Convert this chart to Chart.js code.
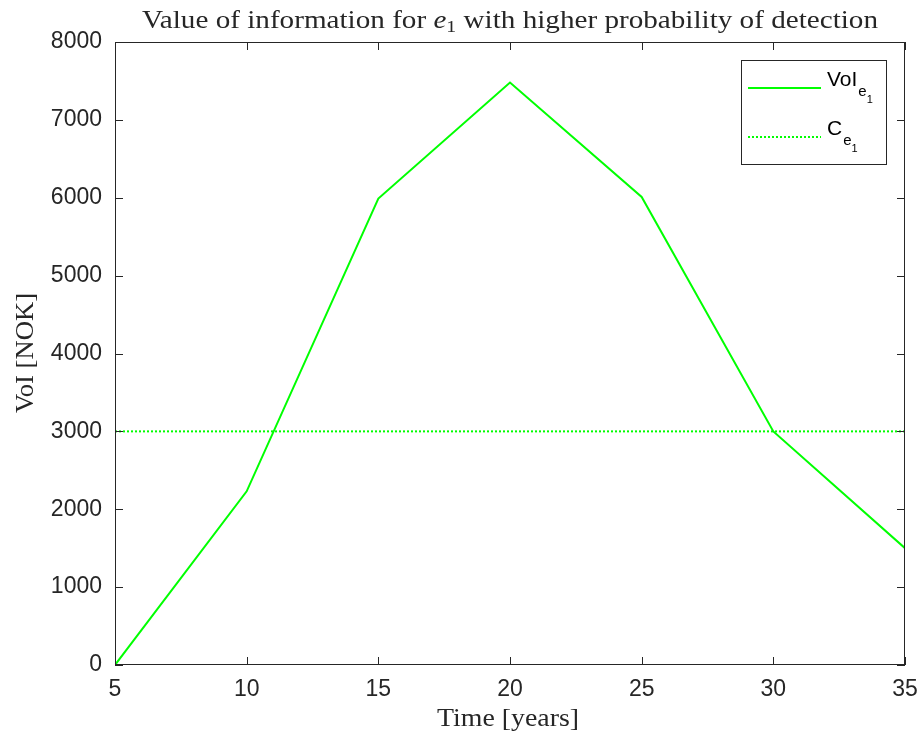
<!DOCTYPE html>
<html>
<head>
<meta charset="utf-8">
<script src="https://cdn.jsdelivr.net/npm/chart.js@4.4.0/dist/chart.umd.min.js"></script>
<style>
  html, body { margin: 0; padding: 0; background: #fff; }
  #wrap { width: 922px; height: 740px; }
</style>
</head>
<body>
<div id="wrap"><canvas id="voiChart" width="922" height="740"></canvas></div>
<script>
// values
const years = [5, 10, 15, 20, 25, 30, 35];
const voiValues = [0, 2230, 5990, 7480, 6010, 3000, 1500];
const costYears = [5, 35];
const costValues = [3000, 3000];
const xTicks = [5, 10, 15, 20, 25, 30, 35];
const yTicks = [0, 1000, 2000, 3000, 4000, 5000, 6000, 7000, 8000];

const axisColor = '#262626';
const green = '#00ff00';
const serif = '"Liberation Serif", "DejaVu Serif", serif';
const sans = '"Liberation Sans", Arial, sans-serif';

function partsWidth(ctx, parts) {
    let w = 0;
    parts.forEach(p => { ctx.font = p.font; w += ctx.measureText(p.text).width + (p.gap || 0); });
    return w;
}

// writes a run of text pieces (used for subscripts), optionally squeezed/stretched to a width
function drawParts(ctx, x, y, parts, targetWidth) {
    const w = partsWidth(ctx, parts);
    const sx = targetWidth ? targetWidth / w : 1;
    ctx.save();
    ctx.translate(x, y);
    ctx.scale(sx, 1);
    let cx = 0;
    parts.forEach(p => {
        ctx.font = p.font;
        ctx.fillText(p.text, cx, p.dy || 0);
        cx += ctx.measureText(p.text).width + (p.gap || 0);
    });
    ctx.restore();
}

const decorations = {
    id: 'decorations',
    afterDraw(chart) {
        const { ctx, chartArea: a, scales } = chart;
        ctx.save();
        // box and inward ticks
        ctx.strokeStyle = axisColor;
        ctx.lineWidth = 1;
        ctx.strokeRect(a.left + 0.5, a.top + 0.5, a.right - a.left - 1, a.bottom - a.top - 1);
        ctx.beginPath();
        xTicks.forEach(v => {
            const px = Math.round(scales.x.getPixelForValue(v)) + 0.5;
            ctx.moveTo(px, a.bottom); ctx.lineTo(px, a.bottom - 8);
            ctx.moveTo(px, a.top); ctx.lineTo(px, a.top + 8);
        });
        yTicks.forEach(v => {
            const py = Math.round(scales.y.getPixelForValue(v)) + 0.5;
            ctx.moveTo(a.left, py); ctx.lineTo(a.left + 8, py);
            ctx.moveTo(a.right, py); ctx.lineTo(a.right - 8, py);
        });
        ctx.stroke();

        // title and axis titles (serif, widened like the LaTeX text)
        ctx.fillStyle = axisColor;
        ctx.textBaseline = 'alphabetic';
        drawParts(ctx, 142, 28, [
            { text: 'Value of information for ', font: '25px ' + serif },
            { text: 'e', font: 'italic 25px ' + serif },
            { text: '1', font: '17px ' + serif, dy: 4 },
            { text: ' with higher probability of detection', font: '25px ' + serif }
        ], 736);
        drawParts(ctx, 437, 726, [{ text: 'Time [years]', font: '25px ' + serif }], 142);
        ctx.save();
        ctx.translate(33, 413);
        ctx.rotate(-Math.PI / 2);
        drawParts(ctx, 0, 0, [{ text: 'VoI [NOK]', font: '25px ' + serif }], 120);
        ctx.restore();

        // legend
        const lx = 741, ly = 60, lw = 145, lh = 104;
        ctx.fillStyle = '#fff';
        ctx.fillRect(lx, ly, lw, lh);
        ctx.strokeStyle = axisColor;
        ctx.strokeRect(lx + 0.5, ly + 0.5, lw, lh);
        chart.data.datasets.forEach((ds, i) => {
            const yy = 88 + i * 49;
            ctx.strokeStyle = ds.borderColor;
            ctx.lineWidth = ds.borderWidth;
            ctx.setLineDash(ds.borderDash || []);
            ctx.beginPath();
            ctx.moveTo(748, yy); ctx.lineTo(821, yy);
            ctx.stroke();
            ctx.setLineDash([]);
            ctx.fillStyle = '#000';
            drawParts(ctx, 827, yy - 2, [
                { text: ds.label, font: '21px ' + sans, gap: 1 },
                { text: 'e', font: '15px ' + sans, dy: 10 },
                { text: '1', font: '11px ' + sans, dy: 17 }
            ]);
        });
        ctx.restore();
    }
};

new Chart(document.getElementById('voiChart').getContext('2d'), {
    type: 'line',
    data: {
        datasets: [
            {
                label: 'VoI',
                data: years.map((x, i) => ({ x: x, y: voiValues[i] })),
                borderColor: green,
                borderWidth: 2,
                pointRadius: 0,
                tension: 0,
                fill: false
            },
            {
                label: 'C',
                data: costYears.map((x, i) => ({ x: x, y: costValues[i] })),
                borderColor: green,
                borderWidth: 2,
                borderDash: [2, 2],
                pointRadius: 0,
                fill: false
            }
        ]
    },
    options: {
        responsive: false,
        animation: false,
        layout: { padding: { left: 0, top: 42, right: 17, bottom: 0 } },
        scales: {
            x: {
                type: 'linear',
                min: 5,
                max: 35,
                afterFit: (s) => { s.height = 75; s.paddingLeft = 0; s.paddingRight = 0; },
                afterBuildTicks: (s) => { s.ticks = xTicks.map(v => ({ value: v })); },
                grid: { display: false, drawTicks: false },
                border: { display: false },
                ticks: {
                    color: axisColor,
                    padding: 11,
                    font: { size: 23, family: sans },
                    callback: (v) => String(v)
                }
            },
            y: {
                type: 'linear',
                min: 0,
                max: 8000,
                afterFit: (s) => { s.width = 115; s.paddingTop = 0; s.paddingBottom = 0; },
                afterBuildTicks: (s) => { s.ticks = yTicks.map(v => ({ value: v })); },
                grid: { display: false, drawTicks: false },
                border: { display: false },
                ticks: {
                    color: axisColor,
                    padding: 13,
                    font: { size: 23, family: sans },
                    callback: (v) => String(v)
                }
            }
        },
        plugins: {
            legend: { display: false },
            tooltip: { enabled: false }
        }
    },
    plugins: [decorations]
});
</script>
</body>
</html>
